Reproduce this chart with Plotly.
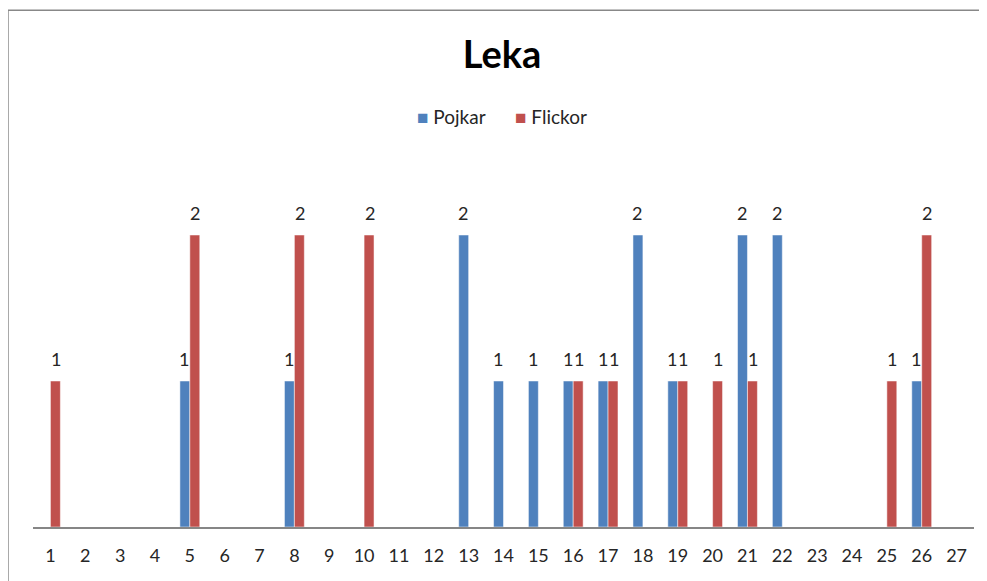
import plotly.graph_objects as go

categories = [str(i) for i in range(1, 28)]

# Antal per kategori (None = ingen stapel)
pojkar = [None, None, None, None, 1, None, None, 1, None, None, None, None, 2, 1,
          1, 1, 1, 2, 1, None, 2, 2, None, None, None, 1, None]
flickor = [1, None, None, None, 2, None, None, 2, None, 2, None, None, None, None,
           None, 1, 1, None, 1, 1, 1, None, None, None, 1, 2, None]

BLUE = "#4F81BD"
RED = "#C0504D"

fig = go.Figure()
fig.add_trace(go.Bar(x=categories, y=pojkar, name="Pojkar",
                     marker=dict(color=BLUE, line=dict(color="white", width=0.5))))
fig.add_trace(go.Bar(x=categories, y=flickor, name="Flickor",
                     marker=dict(color=RED, line=dict(color="white", width=0.5))))

# dataetiketter ovanför staplarna (Excel-stil)
for vals, dx in [(pojkar, -5.5), (flickor, 5.5)]:
    for i, v in enumerate(vals):
        if v is None:
            continue
        fig.add_annotation(x=i, y=v, text=str(v), showarrow=False,
                           xshift=dx, yshift=22, yanchor="middle",
                           font=dict(size=18, color="#262626"))

# egen förklaring
fig.add_annotation(xref="paper", yref="paper", x=0.406, y=1.126,
                   xanchor="left", yanchor="middle", showarrow=False,
                   text=f"<span style='color:{BLUE}'>■</span> Pojkar",
                   font=dict(size=19, color="#262626"))
fig.add_annotation(xref="paper", yref="paper", x=0.51, y=1.126,
                   xanchor="left", yanchor="middle", showarrow=False,
                   text=f"<span style='color:{RED}'>■</span> Flickor",
                   font=dict(size=19, color="#262626"))

# ram runt diagrammet
fig.add_shape(type="rect", xref="paper", yref="paper",
              x0=-0.0266, x1=1.05, y0=-0.2, y1=1.416,
              line=dict(color="#888888", width=1.5), layer="below")

fig.update_layout(
    width=979, height=573,
    barmode="group", bargap=0.43, bargroupgap=0.0,
    title=dict(text="<b>Leka</b>", x=0.5046, xanchor="center",
               y=0.918, yanchor="middle",
               font=dict(size=38, color="black")),
    font=dict(family="Lato, 'Open Sans', sans-serif", color="#262626"),
    showlegend=False,
    plot_bgcolor="white", paper_bgcolor="white",
    margin=dict(l=25, r=13, t=154, b=54),
    xaxis=dict(type="category", showline=True, linecolor="#868686",
               linewidth=1.5, ticks="", ticklabelstandoff=12,
               tickfont=dict(size=18, color="#262626"), showgrid=False),
    yaxis=dict(range=[0, 2.5], visible=False, showgrid=False),
)

fig.write_html("out.html")
